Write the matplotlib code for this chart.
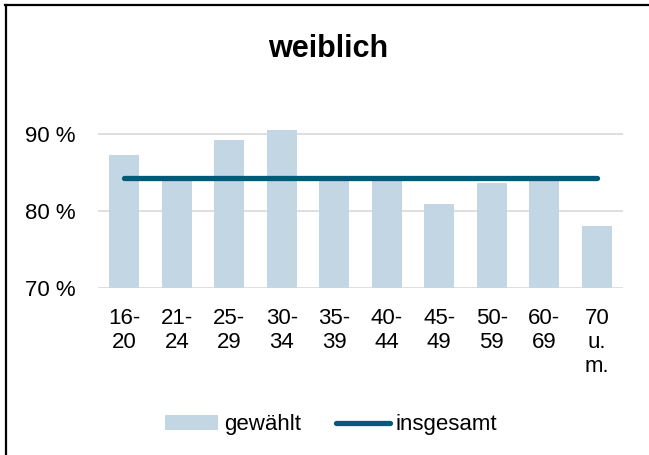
import matplotlib
matplotlib.use("Agg")
import matplotlib.pyplot as plt
from matplotlib.lines import Line2D

# age groups and share of "gewählt" (percent), women
age_groups = ["16-\n20", "21-\n24", "25-\n29", "30-\n34", "35-\n39",
              "40-\n44", "45-\n49", "50-\n59", "60-\n69", "70\nu.\nm."]
gewaehlt = [87.3, 84.2, 89.3, 90.6, 84.0, 84.2, 81.0, 83.7, 84.3, 78.1]
insgesamt = [84.3] * len(age_groups)

bar_color = "#c3d6e3"
line_color = "#005a78"

plt.rcParams['font.family'] = ['Liberation Sans', 'DejaVu Sans']

fig = plt.figure(figsize=(6.49, 4.55), dpi=100)
ax = fig.add_axes([0.151, 0.3664, 0.809, 0.3722])

x = list(range(len(age_groups)))
bars = ax.bar(x, [v - 70 for v in gewaehlt], bottom=70, width=0.57,
              color=bar_color, label="gewählt", zorder=2)
line, = ax.plot(x, insgesamt, color=line_color, linewidth=3.8,
                solid_capstyle='round', label="insgesamt", zorder=3)

ax.set_xlim(-0.5, len(age_groups) - 0.5)
ax.set_ylim(70, 92)
ax.set_yticks([70, 80, 90])
ax.set_yticklabels([f"{t} %" for t in [70, 80, 90]])
ax.set_xticks(x)
ax.set_xticklabels(age_groups, va='top', linespacing=1.2)
ax.tick_params(axis='both', length=0, labelsize=16)
ax.tick_params(axis='y', pad=16)
ax.tick_params(axis='x', pad=14)

ax.grid(axis='y', color='#d9d9d9', linewidth=1.2, zorder=0)
for s in ax.spines.values():
    s.set_visible(False)

fig.text(0.506, 0.893, "weiblich", ha='center', va='center',
         fontsize=22, fontweight='bold')

fig.legend([bars, line], ["gewählt", "insgesamt"], loc='center',
           bbox_to_anchor=(0.51, 0.066), ncol=2, frameon=False, fontsize=16,
           handlelength=2.4, handletextpad=0.25, columnspacing=1.6)

# outer frame edges visible in the crop
fig.add_artist(Line2D([0.008, 1.0], [0.988, 0.988], color='black', linewidth=1.6))
fig.add_artist(Line2D([0.009, 0.009], [0.0, 0.988], color='black', linewidth=1.6))

fig.savefig("out.png", dpi=100)
